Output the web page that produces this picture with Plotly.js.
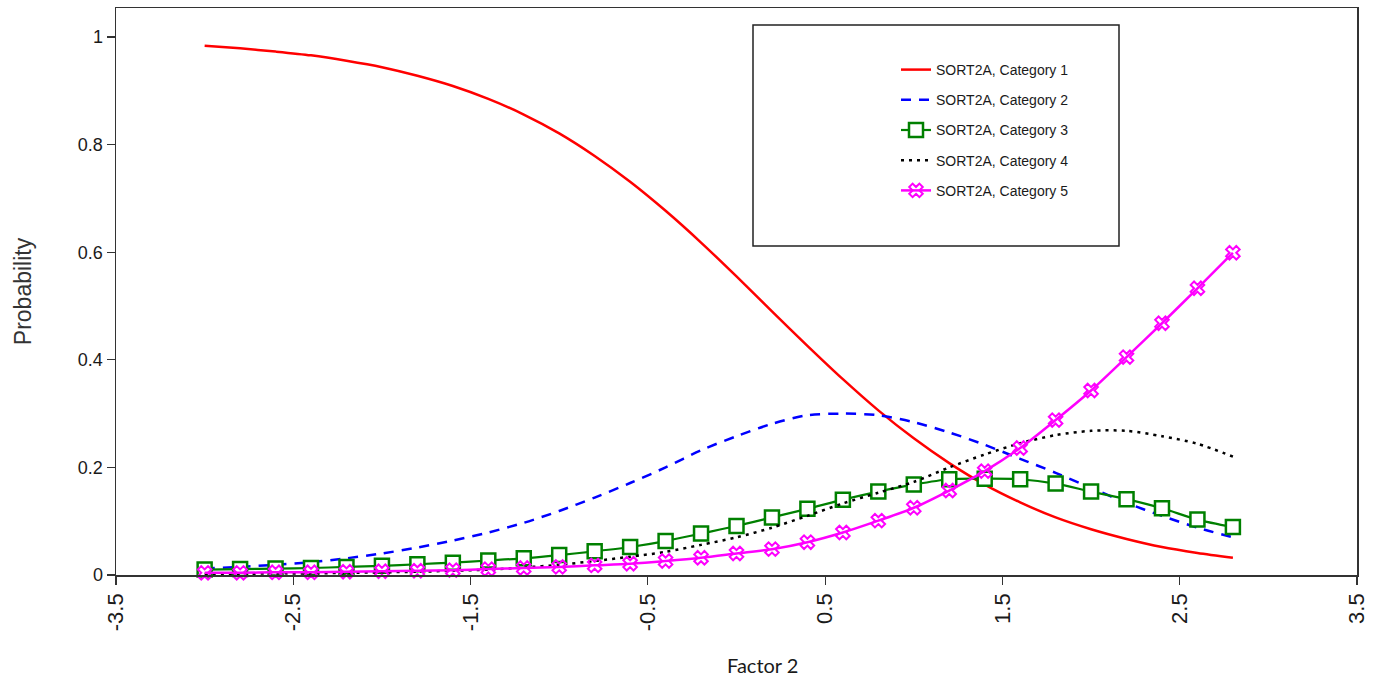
<!DOCTYPE html>
<html>
<head>
<meta charset="utf-8">
<script src="https://cdn.plot.ly/plotly-3.0.1.min.js"></script>
<style>html,body{margin:0;padding:0;background:#fff;}#chart{width:1381px;height:683px;}</style>
</head>
<body>
<div id="chart"></div>
<script>
// Factor 2 grid
const factor2 = [-3.0,-2.8,-2.6,-2.4,-2.2,-2.0,-1.8,-1.6,-1.4,-1.2,-1.0,-0.8,-0.6,-0.4,-0.2,0.0,0.2,0.4,0.6,0.8,1.0,1.2,1.4,1.6,1.8,2.0,2.2,2.4,2.6,2.8];

const cat1 = [0.984,0.979,0.973,0.966,0.956,0.944,0.928,0.909,0.885,0.856,0.821,0.779,0.731,0.677,0.618,0.555,0.490,0.426,0.364,0.306,0.254,0.208,0.168,0.135,0.107,0.085,0.067,0.052,0.041,0.032];
const cat2 = [0.012,0.015,0.019,0.024,0.031,0.040,0.051,0.064,0.079,0.097,0.119,0.144,0.171,0.200,0.232,0.258,0.281,0.297,0.300,0.297,0.284,0.265,0.242,0.216,0.190,0.162,0.134,0.110,0.088,0.070];
const cat3 = [0.010,0.011,0.012,0.013,0.015,0.017,0.020,0.023,0.027,0.031,0.037,0.044,0.052,0.063,0.077,0.091,0.107,0.123,0.140,0.155,0.168,0.178,0.179,0.178,0.170,0.155,0.141,0.124,0.103,0.089];
const cat4 = [0.002,0.002,0.003,0.003,0.004,0.005,0.006,0.008,0.010,0.014,0.019,0.026,0.034,0.043,0.056,0.070,0.088,0.110,0.133,0.153,0.173,0.200,0.224,0.245,0.260,0.268,0.268,0.258,0.244,0.220];
const cat5 = [0.004,0.004,0.005,0.005,0.006,0.007,0.008,0.009,0.011,0.013,0.015,0.018,0.021,0.026,0.032,0.040,0.048,0.061,0.079,0.101,0.125,0.157,0.193,0.236,0.288,0.343,0.405,0.468,0.533,0.599];

const seriesNames = ["SORT2A, Category 1","SORT2A, Category 2","SORT2A, Category 3","SORT2A, Category 4","SORT2A, Category 5"];

const xTickVals = [-3.5,-2.5,-1.5,-0.5,0.5,1.5,2.5,3.5];
const xTickText = ["-3.5","-2.5","-1.5","-0.5","0.5","1.5","2.5","3.5"];
const yTickVals = [0,0.2,0.4,0.6,0.8,1];
const yTickText = ["0","0.2","0.4","0.6","0.8","1"];
const xTitle = "Factor 2";
const yTitle = "Probability";

const traces = [
  {x: factor2, y: cat1, name: seriesNames[0], mode: 'lines', legendgroup: 'g1',
   line: {color: '#ff0000', width: 2.5, shape: 'spline', smoothing: 0.8}},
  {x: factor2, y: cat2, name: seriesNames[1], mode: 'lines', legendgroup: 'g2',
   line: {color: '#0000ff', width: 2.5, dash: '10px,8px', shape: 'spline', smoothing: 0.8}},
  {x: factor2, y: cat3, name: seriesNames[2], mode: 'lines+markers', legendgroup: 'g3', cliponaxis: false,
   line: {color: '#008000', width: 2.2, shape: 'spline', smoothing: 0.8},
   marker: {symbol: 'square', size: 14, color: '#ffffff', line: {color: '#008000', width: 2.5}}},
  {x: factor2, y: cat4, name: seriesNames[3], mode: 'lines', legendgroup: 'g4',
   line: {color: '#000000', width: 2.5, dash: '3px,5px', shape: 'spline', smoothing: 0.8}},
  {x: factor2, y: cat5, name: seriesNames[4], mode: 'lines+markers', legendgroup: 'g5', cliponaxis: false,
   line: {color: '#ff00ff', width: 2.5, shape: 'spline', smoothing: 0.8},
   marker: {symbol: 'x-open', size: 12, color: '#ff00ff', line: {color: '#ff00ff', width: 2}}}
];

const W = 1381, H = 683;
const mL = 116, mR = 24, mT = 8, mB = 108;
const pw = W - mL - mR, ph = H - mT - mB;
function px2x(px){ return (px - mL) / pw; }
function py2y(py){ return (H - mB - py) / ph; }

const layout = {
  width: W, height: H,
  margin: {l: mL, r: mR, t: mT, b: mB, pad: 0},
  paper_bgcolor: '#ffffff',
  plot_bgcolor: '#ffffff',
  font: {family: '"Liberation Sans", Arial, sans-serif', color: '#1a1a1a'},
  showlegend: true,
  legend: {
    x: px2x(896), y: py2y(54), xanchor: 'left', yanchor: 'top',
    bgcolor: 'rgba(0,0,0,0)', borderwidth: 0,
    font: {family: '"Liberation Sans", Arial, sans-serif', size: 14, color: '#1a1a1a'},
    tracegroupgap: 9, itemclick: false, itemdoubleclick: false
  },
  xaxis: {
    range: [-3.5, 3.5], tickmode: 'array', tickvals: xTickVals, ticktext: xTickText,
    tickangle: -90, ticks: 'outside', ticklen: 8, tickwidth: 1.2, tickcolor: '#333',
    showline: true, linecolor: '#333', linewidth: 1.5, mirror: true,
    showgrid: false, zeroline: false,
    tickfont: {family: '"Liberation Sans", Arial, sans-serif', size: 22, color: '#1a1a1a'}
  },
  yaxis: {
    range: [0, 1.054], tickmode: 'array', tickvals: yTickVals, ticktext: yTickText,
    ticks: 'outside', ticklen: 8, tickwidth: 1.2, tickcolor: '#333',
    showline: true, linecolor: '#333', linewidth: 1.5, mirror: true,
    showgrid: false, zeroline: false,
    tickfont: {family: '"Liberation Sans", Arial, sans-serif', size: 18, color: '#1a1a1a'},
    title: {text: yTitle, standoff: 40,
            font: {family: '"Liberation Sans", Arial, sans-serif', size: 23, color: '#333'}}
  },
  annotations: [
    {text: xTitle, xref: 'paper', yref: 'paper', x: px2x(762), y: py2y(665),
     xanchor: 'center', yanchor: 'middle', showarrow: false,
     font: {family: 'Lato, "Open Sans", sans-serif', size: 20, color: '#1a1a1a'}}
  ],
  shapes: [
    {type: 'rect', xref: 'paper', yref: 'paper',
     x0: px2x(753), x1: px2x(1119), y0: py2y(246), y1: py2y(25),
     line: {color: '#222', width: 1.5}, fillcolor: 'rgba(0,0,0,0)', layer: 'above'}
  ]
};

Plotly.newPlot('chart', traces, layout, {displayModeBar: false, staticPlot: true});
</script>
</body>
</html>
